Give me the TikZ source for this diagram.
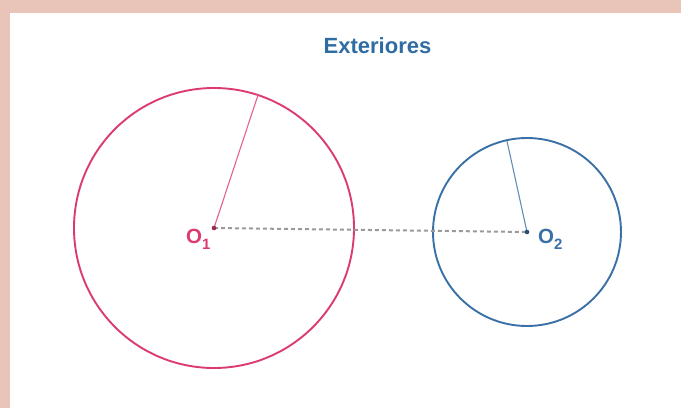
\documentclass[tikz,border=0pt]{standalone}
\usepackage{fontspec}
\setmainfont{Liberation Sans}
\definecolor{bord}{HTML}{E9C4B9}
\definecolor{pinkc}{HTML}{DB3B6E}
\definecolor{bluec}{HTML}{3A70A6}
\definecolor{titleblue}{HTML}{2F6CA3}
\definecolor{dashg}{HTML}{9A9A9A}
\newcommand{\mysub}[1]{\raisebox{-6pt}{\fontsize{15}{15}\selectfont #1}}
\begin{document}
\begin{tikzpicture}[x=1pt,y=-1pt,
  circ/.style={line width=1.9pt},
  rad/.style={line width=1.1pt},
  lbl/.style={font=\bfseries\fontsize{20.5}{20.5}\selectfont, inner sep=0pt, anchor=base west}]
\useasboundingbox (0,0) rectangle (681,408);
\fill[bord] (0,0) rectangle (681,13);
\fill[bord] (0,0) rectangle (10,408);
\node[font=\bfseries\fontsize{22}{22}\selectfont, text=titleblue, inner sep=0pt] (title) at (377.5,46) {Exteriores};
\coordinate (O1) at (214,228);
\coordinate (O2) at (527,232);
\coordinate (P1) at (258,95);
\coordinate (P2) at (507,141);
\draw[circ, pinkc] (O1) circle[radius=140];
\draw[circ, bluec] (O2) circle[radius=94];
\draw[rad, pinkc!80] (O1) -- (P1);
\draw[rad, bluec!80] (O2) -- (P2);
\draw[dashg, line width=2pt, dash pattern=on 4pt off 3pt] (O1) -- (O2);
\fill[pinkc!70!black] (O1) circle[radius=2.3];
\fill[bluec!70!black] (O2) circle[radius=2.3];
\node[lbl, text=pinkc] (L1) at (186,243) {O\mysub{1}};
\node[lbl, text=bluec] (L2) at (538,243) {O\mysub{2}};
\end{tikzpicture}
\end{document}
